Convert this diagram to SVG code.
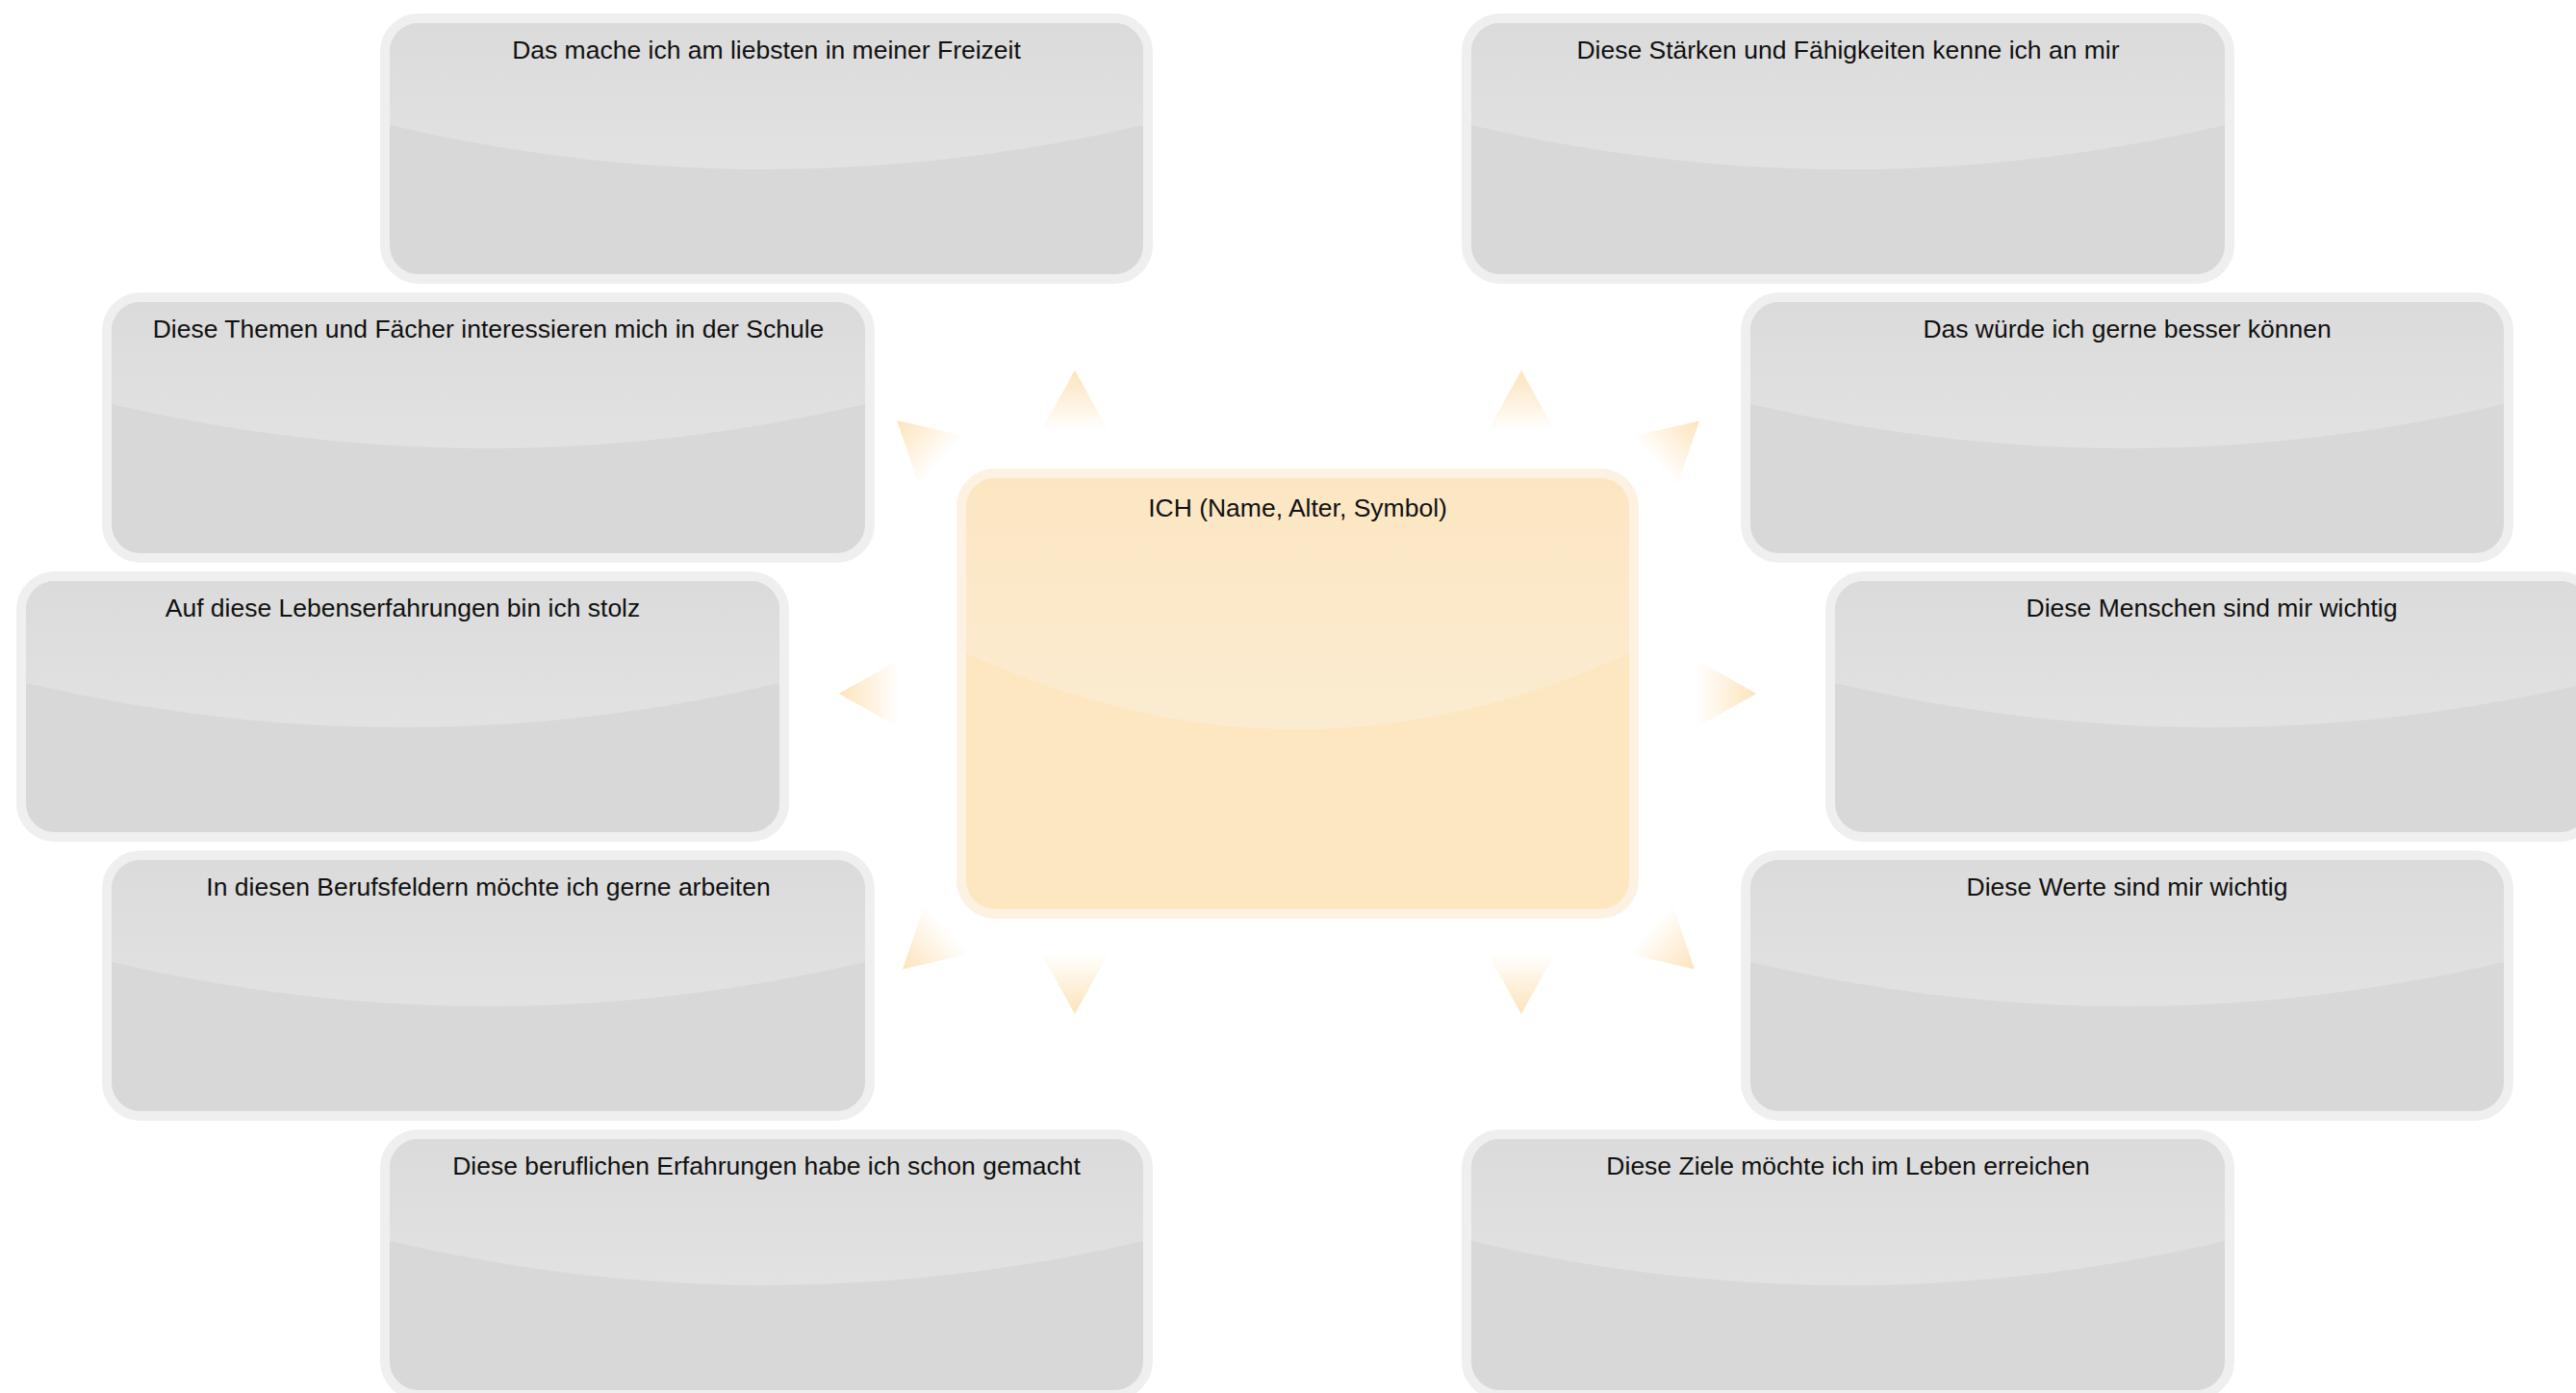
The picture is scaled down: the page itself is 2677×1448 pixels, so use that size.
<svg xmlns="http://www.w3.org/2000/svg" xmlns:xlink="http://www.w3.org/1999/xlink" width="2677" height="1448" viewBox="0 0 2677 1448">
<defs>
<style>
.box{fill:#d8d8d8;stroke:#efefef;stroke-width:10}
.gloss{fill:url(#gGray)}
.cbox{fill:#fde7c1;stroke:#fdf2e2;stroke-width:10}
.cgloss{fill:url(#gGold)}
.lbl{font-family:"Liberation Sans",Arial,Helvetica,sans-serif;font-size:26.5px;fill:#111;text-anchor:middle}
.tri{fill:url(#gTri)}
</style>
<linearGradient id="gGray" x1="0" y1="0" x2="0" y2="1">
<stop offset="0" stop-color="#dbdbdb"/>
<stop offset="1" stop-color="#e2e2e2"/>
</linearGradient>
<linearGradient id="gGold" x1="0" y1="0" x2="0" y2="1">
<stop offset="0" stop-color="#fce6c2"/>
<stop offset="1" stop-color="#fbecd1"/>
</linearGradient>
<linearGradient id="gTri" x1="0" y1="0" x2="0" y2="1">
<stop offset="0" stop-color="#fde3bb"/>
<stop offset="0.9" stop-color="#ffffff"/>
</linearGradient>
<path id="tri" class="tri" d="M0,-35 L39,35 L-39,35 Z"/>
<path id="glossShape" class="gloss" d="M5,35 A30,30 0 0 1 35,5 H758 A30,30 0 0 1 788,35 V111 Q396.5,203 5,111 Z"/>
</defs>
<rect width="2677" height="1448" fill="#ffffff"/>
<g id="connectors">
<use xlink:href="#tri" transform="translate(1117,420)"/>
<use xlink:href="#tri" transform="translate(958,460.5) rotate(-48)"/>
<use xlink:href="#tri" transform="translate(906.5,721) rotate(-90)"/>
<use xlink:href="#tri" transform="translate(964,984) rotate(-132)"/>
<use xlink:href="#tri" transform="translate(1117,1019) rotate(180)"/>
<use xlink:href="#tri" transform="translate(1581,420)"/>
<use xlink:href="#tri" transform="translate(1740,461) rotate(48)"/>
<use xlink:href="#tri" transform="translate(1790.5,721) rotate(90)"/>
<use xlink:href="#tri" transform="translate(1735,984) rotate(132)"/>
<use xlink:href="#tri" transform="translate(1581,1019) rotate(180)"/>
</g>
<g id="center" transform="translate(999,492)">
<rect class="cbox" width="699" height="458" rx="35"/>
<path class="cgloss" d="M5,35 A30,30 0 0 1 35,5 H664 A30,30 0 0 1 694,35 V187 Q349.5,345 5,187 Z"/>
<text class="lbl" x="349.5" y="45">ICH (Name, Alter, Symbol)</text>
</g>
<g id="n1" transform="translate(400,19)">
<rect class="box" width="793" height="271" rx="35"/>
<use xlink:href="#glossShape"/>
<text class="lbl" x="396.5" y="42">Das mache ich am liebsten in meiner Freizeit</text>
</g>
<g id="n2" transform="translate(1524,19)">
<rect class="box" width="793" height="271" rx="35"/>
<use xlink:href="#glossShape"/>
<text class="lbl" x="396.5" y="42">Diese Stärken und Fähigkeiten kenne ich an mir</text>
</g>
<g id="n3" transform="translate(111,309)">
<rect class="box" width="793" height="271" rx="35"/>
<use xlink:href="#glossShape"/>
<text class="lbl" x="396.5" y="42">Diese Themen und Fächer interessieren mich in der Schule</text>
</g>
<g id="n4" transform="translate(1814,309)">
<rect class="box" width="793" height="271" rx="35"/>
<use xlink:href="#glossShape"/>
<text class="lbl" x="396.5" y="42">Das würde ich gerne besser können</text>
</g>
<g id="n5" transform="translate(22,599)">
<rect class="box" width="793" height="271" rx="35"/>
<use xlink:href="#glossShape"/>
<text class="lbl" x="396.5" y="42">Auf diese Lebenserfahrungen bin ich stolz</text>
</g>
<g id="n6" transform="translate(1902,599)">
<rect class="box" width="793" height="271" rx="35"/>
<use xlink:href="#glossShape"/>
<text class="lbl" x="396.5" y="42">Diese Menschen sind mir wichtig</text>
</g>
<g id="n7" transform="translate(111,889)">
<rect class="box" width="793" height="271" rx="35"/>
<use xlink:href="#glossShape"/>
<text class="lbl" x="396.5" y="42">In diesen Berufsfeldern möchte ich gerne arbeiten</text>
</g>
<g id="n8" transform="translate(1814,889)">
<rect class="box" width="793" height="271" rx="35"/>
<use xlink:href="#glossShape"/>
<text class="lbl" x="396.5" y="42">Diese Werte sind mir wichtig</text>
</g>
<g id="n9" transform="translate(400,1179)">
<rect class="box" width="793" height="271" rx="35"/>
<use xlink:href="#glossShape"/>
<text class="lbl" x="396.5" y="42">Diese beruflichen Erfahrungen habe ich schon gemacht</text>
</g>
<g id="n10" transform="translate(1524,1179)">
<rect class="box" width="793" height="271" rx="35"/>
<use xlink:href="#glossShape"/>
<text class="lbl" x="396.5" y="42">Diese Ziele möchte ich im Leben erreichen</text>
</g>
</svg>
